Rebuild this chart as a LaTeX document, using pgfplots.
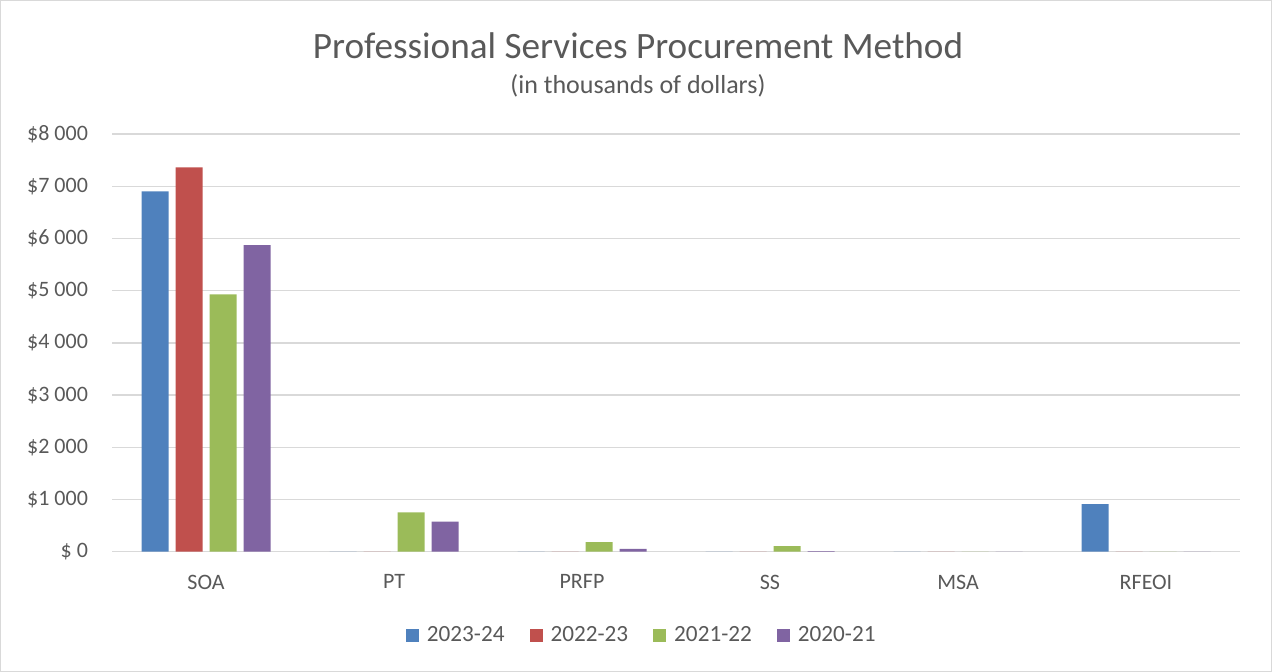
\documentclass[border=0pt]{standalone}
\usepackage{fontspec}
\setmainfont{Carlito}
\usepackage{pgfplots}
\pgfplotsset{compat=1.18}
\definecolor{txtgray}{HTML}{595959}
\definecolor{gridgray}{HTML}{D9D9D9}
\definecolor{c1}{HTML}{4F81BD}
\definecolor{c2}{HTML}{C0504D}
\definecolor{c3}{HTML}{9BBB59}
\definecolor{c4}{HTML}{8064A2}

\begin{document}
\begin{tikzpicture}
\useasboundingbox (0,0) rectangle (636pt,336pt);
\draw[gridgray, line width=0.6pt] (0.3pt,0.3pt) rectangle (635.7pt,335.7pt);
\node[txtgray, font=\fontsize{18.6}{22}\selectfont] at (319pt,313pt) {Professional Services Procurement Method};
\node[txtgray, font=\fontsize{13}{15}\selectfont] at (319pt,293pt) {(in thousands of dollars)};
\begin{axis}[
    at={(56pt,60.15pt)}, anchor=south west,
    scale only axis,
    width=564pt, height=208.8pt,
    ybar=3.5pt, bar width=13.5pt,
    xmin=-0.5, xmax=5.5,
    ymin=0, ymax=8000,
    xtick=data,
    xticklabels={SOA, PT, PRFP, SS, MSA, RFEOI},
    ytick={0,1000,...,8000},
    yticklabels={\$ 0, \$1 000, \$2 000, \$3 000, \$4 000, \$5 000, \$6 000, \$7 000, \$8 000},
    ymajorgrids=true,
    grid style={gridgray, line width=0.75pt},
    axis line style={draw=none},
    major tick length=0pt,
    tick label style={txtgray, font=\fontsize{11}{13}\selectfont},
    yticklabel style={xshift=-8.5pt},
    xticklabel style={yshift=-8pt},
    legend style={at={(0.4705,-0.2)}, anchor=center, draw=none, fill=none,
        legend columns=4, font=\fontsize{11.6}{13}\selectfont, text=txtgray,
        /tikz/every even column/.append style={column sep=10.5pt}},
    legend image code/.code={\fill[#1] (0pt,-3.25pt) rectangle (6.5pt,3.25pt); \path (8.5pt,0pt);},
]
\addplot[fill=c1, draw=none] coordinates {(0,6904) (1,0) (2,0) (3,0) (4,0) (5,912)};
\addplot[fill=c2, draw=none] coordinates {(0,7363) (1,0) (2,0) (3,0) (4,0) (5,0)};
\addplot[fill=c3, draw=none] coordinates {(0,4931) (1,753) (2,185) (3,109) (4,0) (5,0)};
\addplot[fill=c4, draw=none] coordinates {(0,5871) (1,574) (2,52) (3,10) (4,0) (5,0)};
\legend{2023-24, 2022-23, 2021-22, 2020-21}
\end{axis}
\end{tikzpicture}
\end{document}
